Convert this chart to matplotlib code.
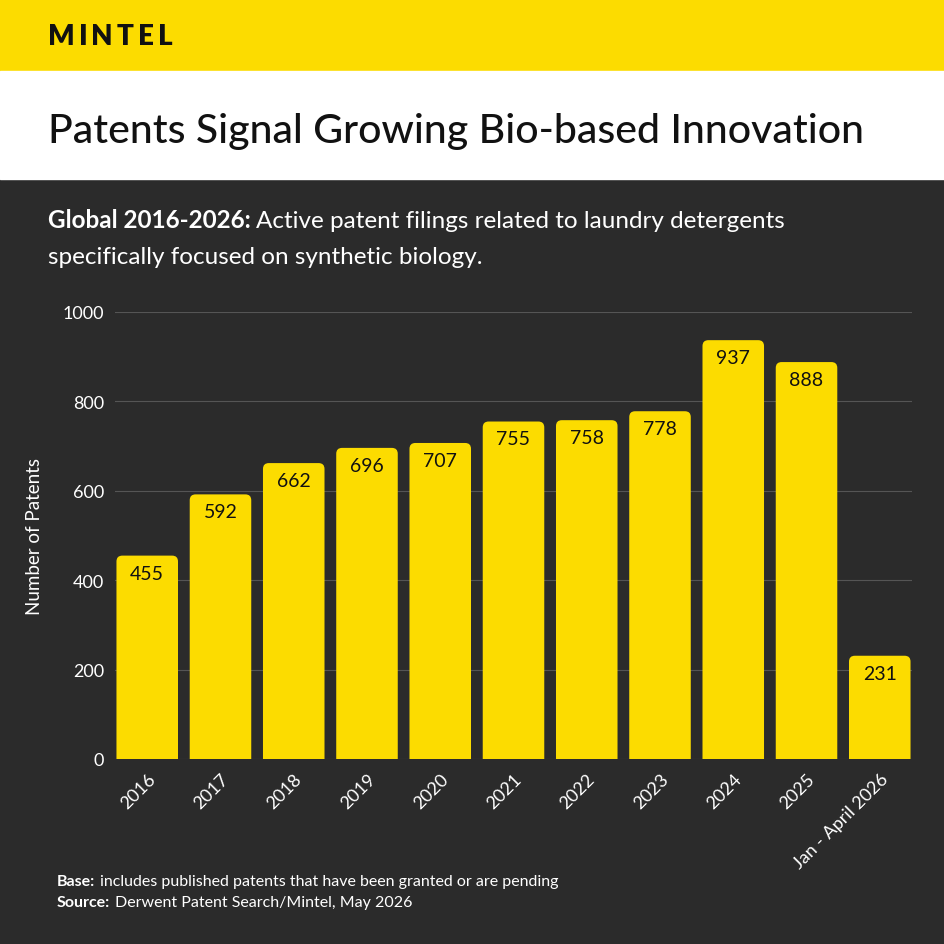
import matplotlib
matplotlib.use("Agg")
import matplotlib.pyplot as plt
from matplotlib.patches import FancyBboxPatch, Rectangle

categories = ["2016","2017","2018","2019","2020","2021","2022","2023","2024","2025","Jan - April 2026"]
values = [455,592,662,696,707,755,758,778,937,888,231]
yticks = [0,200,400,600,800,1000]

plt.rcParams['font.family'] = ['Lato', 'DejaVu Sans']
YEL = "#FCDC00"; DARK = "#2B2B2B"
fig = plt.figure(figsize=(9.45,9.45), dpi=100)
fig.patch.set_facecolor(DARK)
fig.add_artist(Rectangle((0,1-72/945),1,72/945,transform=fig.transFigure,color=YEL,zorder=0))
fig.add_artist(Rectangle((0,1-180/945),1,108/945,transform=fig.transFigure,color="white",zorder=0))
fig.canvas.draw()
r = fig.canvas.get_renderer()

x = 48
for ch in "MINTEL":
    t = fig.text(x/945,1-37/945,ch,fontsize=20,fontweight="heavy",color="#111111",va="center")
    x = t.get_window_extent(r).x1 + 4
fig.text(48/945,1-131/945,"Patents Signal Growing Bio-based Innovation",fontsize=29.5,color="#111111",va="center",fontweight="medium")

def two_part(x, y, bold, rest, fs):
    t = fig.text(x/945, y, bold, fontsize=fs, fontweight="bold", color="white", va="center")
    bb = t.get_window_extent(r)
    fig.text((bb.x1+5)/945, y, rest, fontsize=fs, color="white", va="center")
two_part(48, 1-221/945, "Global 2016-2026:", "Active patent filings related to laundry detergents", 17.5)
fig.text(48/945,1-257/945,"specifically focused on synthetic biology.",fontsize=17.5,color="white",va="center")

ax = fig.add_axes([115/945, 1-760/945, 797/945, 447/945])
ax.set_facecolor(DARK)
ax.set_xlim(-0.44, 10.44); ax.set_ylim(0,1000)
w = 0.84
asp = (1000/447)/(10.88/797)
for i,v in enumerate(values):
    p = FancyBboxPatch((i-w/2,-30), w, v+30, boxstyle="round,pad=0,rounding_size=0.08",
                       mutation_aspect=asp, fc=YEL, ec="none", zorder=3, clip_on=True)
    ax.add_patch(p)
    ax.text(i, v-20, str(v), ha="center", va="top", fontsize=14, color="#111111", zorder=4)
ax.set_yticks(yticks)
ax.set_yticklabels([str(t) for t in yticks], color="white", fontsize=13)
ax.set_xticks(range(len(categories)))
ax.set_xticklabels(categories, rotation=45, ha="right", rotation_mode="anchor", color="white", fontsize=13)
ax.grid(axis="y", color="#555555", lw=0.8, zorder=0)
ax.tick_params(length=0, pad=8)
for s in ax.spines.values(): s.set_visible(False)
ax.set_ylabel("Number of Patents", color="white", fontsize=13.5, labelpad=14)

two_part(57, 1-882/945, "Base:", "includes published patents that have been granted or are pending", 11.5)
two_part(57, 1-903/945, "Source:", "Derwent Patent Search/Mintel, May 2026", 11.5)
fig.savefig("out.png", dpi=100, facecolor=DARK)
